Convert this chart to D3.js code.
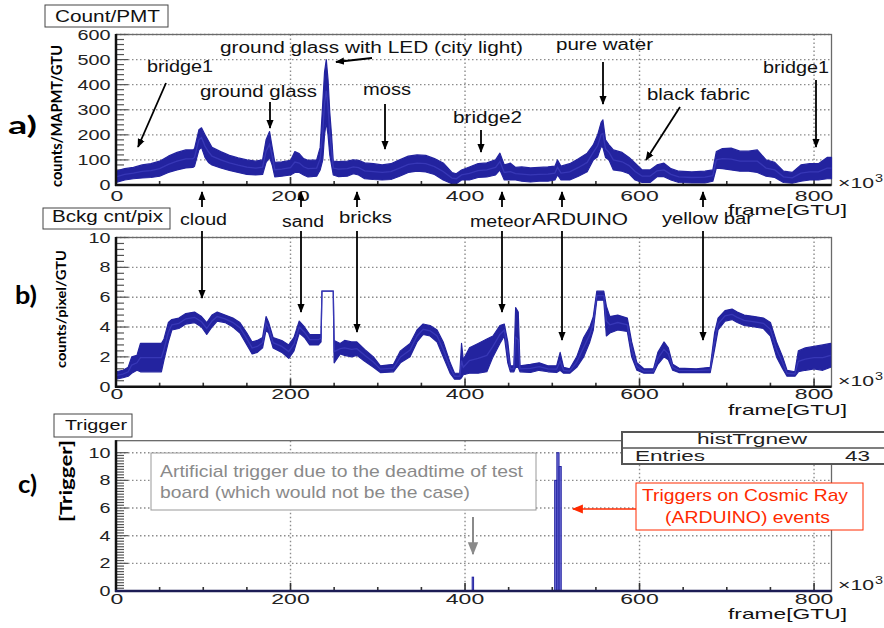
<!DOCTYPE html>
<html><head><meta charset="utf-8">
<script src="https://cdn.jsdelivr.net/npm/d3@7"></script>
<style>html,body{margin:0;padding:0;background:#fff;}svg{display:block;}</style>
</head><body>
<svg id="c" width="884" height="628"></svg>
<script>
// ---------------- DATA ----------------
// Panel a: Count/PMT (counts/MAPMT/GTU) band, frame in units of 10^3 GTU
const framesA = [0,5,10,20,30,40,50,60,70,80,88,90,95,98,102,106,110,120,130,140,150,160,168,172,176,179,182,190,200,205,210,215,220,230,234,237,239,241,243,245,247,249,255,265,272,278,285,295,305,315,325,335,345,355,365,375,385,390,396,405,415,425,435,440,445,452,458,465,475,485,495,503,506,510,520,530,540,547,552,556,558,561,565,570,580,588,595,603,612,620,628,636,645,660,675,684,688,695,705,715,725,735,745,755,765,775,785,795,805,815,820];
const lowA    = [10,15,20,25,28,30,35,50,60,68,70,75,140,150,110,90,80,68,58,50,42,40,42,90,110,80,32,35,40,50,50,40,32,35,60,100,200,250,200,120,80,40,33,35,45,40,25,22,20,22,35,50,55,52,42,20,5,5,20,20,30,32,40,60,20,20,20,15,12,15,15,20,40,20,20,35,53,100,113,153,150,110,100,60,55,45,20,10,10,33,33,20,10,8,8,15,67,65,60,55,55,50,35,30,10,7,15,20,20,25,25];
const highA   = [55,60,65,70,80,85,95,115,130,140,140,145,220,228,200,175,150,133,118,108,100,95,100,180,213,150,90,92,98,133,125,105,98,100,150,330,450,500,420,290,200,95,93,95,100,98,88,85,80,85,100,115,120,118,105,88,50,45,60,72,85,88,100,127,80,87,70,72,68,70,72,75,100,75,85,105,127,160,200,250,260,180,160,140,130,110,87,60,60,80,87,65,55,52,55,60,133,145,147,135,135,140,100,90,55,50,80,85,85,110,110];

// Panel b: Bckg cnt/pix (counts/pixel/GTU)
const framesB = [0,8,14,18,24,28,40,52,55,60,64,72,80,90,98,104,110,116,125,134,142,150,156,162,168,172,175,180,190,198,204,210,216,222,232,235,236,249,250,257,262,270,276,285,295,303,318,326,337,345,352,360,368,375,383,388,394,396,398,405,415,425,432,440,445,449,452,456,458,461,463,475,485,495,505,509,513,520,528,536,543,547,551,559,562,566,575,586,591,597,605,616,621,628,633,638,645,665,681,686,690,698,706,712,720,732,742,750,757,764,769,778,782,790,800,810,819];
const lowB    = [0.5,0.6,0.7,0.9,1.1,1.0,1.0,1.0,1.8,3.0,3.8,3.9,4.2,4.3,4.0,3.5,4.0,4.4,4.3,4.0,3.6,2.8,2.2,2.3,2.6,3.8,3.6,2.6,2.3,1.9,2.4,3.6,3.3,2.8,2.8,3.0,6.4,6.4,1.6,2.2,2.1,2.0,2.1,1.7,1.3,0.95,1.0,1.6,2.0,3.0,3.5,3.4,3.0,2.0,0.9,0.5,0.5,0.6,0.8,0.9,0.9,1.0,2.0,2.9,3.4,1.6,1.0,1.0,1.3,1.3,1.0,0.95,1.1,1.0,0.95,1.1,0.9,0.9,1.3,2.0,3.0,3.8,5.8,5.8,3.4,3.6,3.8,3.7,2.0,1.1,0.9,0.9,1.5,2.0,1.8,1.1,0.95,0.95,0.95,2.5,3.8,4.4,4.5,4.3,4.1,4.0,3.9,3.4,2.0,1.2,0.7,0.7,1.0,1.1,1.2,1.1,1.3];
const highB   = [1.0,1.1,1.3,2.0,2.1,2.9,2.9,2.9,3.2,4.3,4.5,4.6,4.9,5.0,4.7,4.3,4.8,5.0,4.8,4.6,4.3,3.6,3.0,3.1,3.3,4.7,4.3,3.3,3.1,2.8,3.3,4.4,4.0,3.5,3.5,3.5,6.4,6.4,3.1,2.9,3.1,3.0,3.0,2.5,2.0,1.4,1.5,2.4,2.9,3.8,4.2,4.1,3.8,3.0,1.6,0.9,0.9,2.9,1.8,2.6,2.9,3.2,3.4,4.1,4.2,3.0,1.4,1.4,5.3,5.0,1.4,1.5,1.6,1.4,1.4,2.3,1.3,1.2,2.0,3.3,4.0,4.7,6.4,6.4,5.4,4.7,4.8,4.6,3.0,1.6,1.2,1.2,2.3,3.0,2.6,1.5,1.25,1.2,1.3,3.6,4.6,5.1,5.2,5.0,4.8,4.7,4.6,4.3,3.0,2.0,1.1,1.0,2.4,2.6,2.7,2.8,2.9];

// Panel c: Trigger histogram (histTrgnew)
const trigFrames = [409, 504, 506.5, 509];
const trigWidth  = [1.6, 2.5, 2.5, 2.5];
const trigCounts = [1, 8, 10, 9];
const trigEntries = 43;

const xTicks = [0, 200, 400, 600, 800];
const xMinor = d3.range(0, 821, 50);
const yTicksA = [0, 100, 200, 300, 400, 500, 600];
const yTicksB = [0, 2, 4, 6, 8, 10];
const yTicksC = [0, 2, 4, 6, 8, 10];

// ---------------- DRAW ----------------
const svg = d3.select('#c');
const FONT = "'Liberation Sans', Arial, Helvetica, sans-serif";
const BOLD = "Lato, 'Open Sans', sans-serif";

function txt(g, s, x, y, o = {}) {
  const t = g.append('text').text(s)
    .attr('font-family', o.family || FONT)
    .attr('font-size', o.size || 16)
    .attr('fill', o.fill || '#111')
    .attr('font-weight', o.weight || 'normal');
  const a = o.anchor || 'start';
  let x0 = x;
  if (o.w) {
    if (a === 'middle') x0 = x - o.w / 2; else if (a === 'end') x0 = x - o.w;
    t.attr('textLength', o.w).attr('lengthAdjust', 'spacingAndGlyphs');
  } else t.attr('text-anchor', a);
  if (o.rot) {
    t.attr('transform', `translate(${x},${y}) rotate(-90)`).attr('x', o.w ? -o.w / 2 : 0).attr('y', 0);
    if (!o.w) t.attr('text-anchor', 'middle');
  } else t.attr('x', x0).attr('y', y);
  return t;
}

const defs = svg.append('defs');
function marker(id, color, size) {
  defs.append('marker').attr('id', id).attr('viewBox', '0 0 10 10').attr('refX', 9).attr('refY', 5)
    .attr('markerWidth', size).attr('markerHeight', size).attr('orient', 'auto')
    .attr('markerUnits', 'userSpaceOnUse')
    .append('path').attr('d', 'M0,1 L10,5 L0,9 Z').attr('fill', color);
}
marker('ab', '#000', 9);
marker('ag', '#8a8a8a', 13);
marker('ar', '#ff2a00', 11);
function arrow(x1, y1, x2, y2, m = 'ab', color = '#000', w = 1.8) {
  svg.append('line').attr('x1', x1).attr('y1', y1).attr('x2', x2).attr('y2', y2)
    .attr('stroke', color).attr('stroke-width', w).attr('marker-end', `url(#${m})`);
}

const X0 = 116, X1 = 831.5;
const x = d3.scaleLinear().domain([0, 820]).range([X0, X1]);

function panel(y, top, bottom, yTicks, minorStep) {
  const g = svg.append('g');
  yTicks.filter(v => v > 0).forEach(v => {
    g.append('line').attr('x1', X0).attr('x2', X1).attr('y1', y(v)).attr('y2', y(v))
      .attr('stroke', '#8c8c8c').attr('stroke-width', 1.4).attr('stroke-dasharray', '1.5,2.5');
  });
  xTicks.filter(v => v > 0).forEach(v => {
    g.append('line').attr('x1', x(v)).attr('x2', x(v)).attr('y1', top).attr('y2', bottom)
      .attr('stroke', '#8c8c8c').attr('stroke-width', 1.4).attr('stroke-dasharray', '1.5,2.5');
  });
  g.append('rect').attr('x', X0).attr('y', top).attr('width', X1 - X0).attr('height', bottom - top)
    .attr('fill', 'none').attr('stroke', '#6a6a6a').attr('stroke-width', 1.3);
  const yMax = y.domain()[1];
  d3.range(0, yMax + 1e-9, minorStep).forEach(v => {
    const yy = y(v);
    if (yy < top - 0.5) return;
    const major = yTicks.some(t => Math.abs(t - v) < 1e-6);
    g.append('line').attr('x1', X0).attr('x2', X0 + (major ? 12 : 8)).attr('y1', yy).attr('y2', yy)
      .attr('stroke', '#555').attr('stroke-width', 1.2);
  });
  xMinor.forEach(v => {
    const major = v % 200 === 0;
    g.append('line').attr('x1', x(v)).attr('x2', x(v)).attr('y1', bottom).attr('y2', bottom - (major ? 8 : 4))
      .attr('stroke', '#333').attr('stroke-width', 1.6);
  });
  return g;
}

function axesLines(top, bottom, axisColor) {
  svg.append('line').attr('x1', X0).attr('x2', X0).attr('y1', top - 0.5).attr('y2', bottom + 1)
    .attr('stroke', '#111').attr('stroke-width', 2.5);
  svg.append('line').attr('x1', X0 - 1).attr('x2', X1).attr('y1', bottom).attr('y2', bottom)
    .attr('stroke', axisColor || '#111').attr('stroke-width', 2.5);
}

function tickLabels(y, yTicks, xBase) {
  yTicks.forEach(v => {
    const s = String(v);
    txt(svg, s, 110.5, y(v) + 5, { size: 14, w: s.length * 11, anchor: 'end', fill: '#222' });
  });
  xTicks.forEach(v => {
    const s = String(v);
    txt(svg, s, x(v) + (v === 0 ? 1 : 0), xBase, { size: 14, w: s.length * 12.8, anchor: 'middle', fill: '#222' });
  });
}

function x10(yb) {
  txt(svg, '×10', 838, yb, { size: 14, w: 36, fill: '#222' });
  txt(svg, '3', 875, yb - 6, { size: 10, w: 8, fill: '#222' });
}

function band(y, frames, lo, hi, col) {
  const data = frames.map((k, i) => ({ k, lo: lo[i], hi: hi[i] }));
  const area = d3.area().x(d => x(d.k)).y0(d => y(d.lo)).y1(d => y(d.hi));
  svg.append('path').datum(data).attr('d', area).attr('fill', col)
    .attr('stroke', col).attr('stroke-width', 1.2).attr('stroke-linejoin', 'round');
  const mid = d3.line().x(d => x(d.k)).y(d => y((d.lo + d.hi) / 2));
  svg.append('path').datum(data).attr('d', mid).attr('fill', 'none')
    .attr('stroke', '#3a3ab8').attr('stroke-width', 1.3).attr('stroke-opacity', 0.9);
}

function titleBox(s, x0, y0, w, h, tx, tb, tw, size) {
  svg.append('rect').attr('x', x0).attr('y', y0).attr('width', w).attr('height', h)
    .attr('fill', '#fff').attr('stroke', '#444').attr('stroke-width', 1);
  txt(svg, s, tx, tb, { size: size, w: tw, fill: '#111' });
}

// ---- Panel a ----
const yA = d3.scaleLinear().domain([0, 600]).range([185, 34.5]);
panel(yA, 34.5, 185, yTicksA, 20);
band(yA, framesA, lowA, highA, '#23239f');
axesLines(34.5, 185);
tickLabels(yA, yTicksA, 201);
x10(188);
txt(svg, 'frame[GTU]', 847, 215, { size: 15, w: 119, anchor: 'end', fill: '#111' });
titleBox('Count/PMT', 45, 5, 123, 22, 55, 21.5, 105, 16);
txt(svg, 'a)', 8, 134, { size: 24, w: 29, family: BOLD, weight: 'bold', fill: '#000' });
txt(svg, 'counts/MAPMT/GTU', 62, 116, { size: 15, w: 142, family: BOLD, weight: 'bold', rot: true, fill: '#000' });

// ---- Panel b ----
const yB = d3.scaleLinear().domain([0, 10]).range([386.7, 237.5]);
panel(yB, 237.5, 386.7, yTicksB, 0.4);
band(yB, framesB, lowB, highB, '#23239f');
axesLines(237.5, 386.7);
tickLabels(yB, yTicksB, 399);
x10(386);
txt(svg, 'frame[GTU]', 847, 415, { size: 15, w: 119, anchor: 'end', fill: '#111' });
titleBox('Bckg cnt/pix', 43, 208, 127, 21, 52, 222, 111, 16);
txt(svg, 'b)', 15, 304, { size: 24, w: 22, family: BOLD, weight: 'bold', fill: '#000' });
txt(svg, 'counts/pixel/GTU', 66, 309, { size: 14, w: 118, family: BOLD, weight: 'bold', rot: true, fill: '#000' });

// ---- Panel c ----
const yC = d3.scaleLinear().domain([0, 10]).range([591, 452.7]);
const topC = yC(10.87);
panel(yC, topC, 591, yTicksC, 0.2);
trigFrames.forEach((k, i) => {
  svg.append('rect').attr('x', x(k - trigWidth[i] / 2)).attr('width', x(trigWidth[i]) - x(0))
    .attr('y', yC(trigCounts[i])).attr('height', yC(0) - yC(trigCounts[i]))
    .attr('fill', '#5a5ad2').attr('fill-opacity', 0.85).attr('stroke', '#2323a0').attr('stroke-width', 1);
});
axesLines(topC, 591, '#1c1c55');
tickLabels(yC, yTicksC, 604);
x10(590);
txt(svg, 'frame[GTU]', 847, 619, { size: 15, w: 119, anchor: 'end', fill: '#111' });
titleBox('Trigger', 54, 414, 78, 23, 65, 430, 62, 14);
txt(svg, 'c)', 18, 493, { size: 24, w: 19, family: BOLD, weight: 'bold', fill: '#000' });
txt(svg, '[Trigger]', 72, 481, { size: 17, w: 82, family: BOLD, weight: 'bold', rot: true, fill: '#000' });

// stats box
svg.append('rect').attr('x', 622).attr('y', 432).attr('width', 270).attr('height', 32)
  .attr('fill', '#fff').attr('stroke', '#555').attr('stroke-width', 2);
svg.append('line').attr('x1', 622).attr('x2', 884).attr('y1', 448).attr('y2', 448).attr('stroke', '#555').attr('stroke-width', 1.5);
txt(svg, 'histTrgnew', 752, 444, { size: 14, w: 110, anchor: 'middle', fill: '#222' });
txt(svg, 'Entries', 635, 461, { size: 14, w: 70, fill: '#222' });
txt(svg, String(trigEntries), 870, 461, { size: 14, w: 25, anchor: 'end', fill: '#222' });

// gray annotation box
svg.append('rect').attr('x', 151).attr('y', 453).attr('width', 385).attr('height', 57)
  .attr('fill', '#fff').attr('stroke', '#999').attr('stroke-width', 1);
txt(svg, 'Artificial trigger due to the deadtime of test', 160, 477, { size: 17, w: 363, fill: '#8a8a8a' });
txt(svg, 'board (which would not be the case)', 160, 498, { size: 17, w: 310, fill: '#8a8a8a' });
arrow(473, 517, 473, 554, 'ag', '#8a8a8a', 2);

// red annotation
svg.append('rect').attr('x', 636).attr('y', 483).attr('width', 227).attr('height', 47)
  .attr('fill', '#fff').attr('stroke', '#ff2a00').attr('stroke-width', 1);
txt(svg, 'Triggers on Cosmic Ray', 642, 501, { size: 17, w: 206, fill: '#ff2a00' });
txt(svg, '(ARDUINO) events', 665, 523, { size: 17, w: 165, fill: '#ff2a00' });
arrow(636, 509, 573, 509, 'ar', '#ff2a00', 1.6);

// ---- annotations panel a ----
const annA = [
  ['bridge1', 147, 72, 66], ['ground glass', 200, 97, 117], ['ground glass with LED (city light)', 220, 52.5, 303],
  ['moss', 363, 95, 48], ['bridge2', 453, 123, 69], ['pure water', 556, 50, 97], ['black fabric', 647, 99.5, 103],
  ['bridge1', 763, 73, 66]
];
annA.forEach(([s, ax, ay, w]) => txt(svg, s, ax, ay, { size: 16, w: w, fill: '#111' }));
arrow(166, 83, 138, 147);
arrow(270, 102, 270, 128);
arrow(372, 58, 336, 62);
arrow(385, 104, 385, 149);
arrow(481, 130, 481, 152);
arrow(603, 62, 603, 104);
arrow(680, 107, 646, 160);
arrow(816, 80, 816, 147);

// ---- annotations between a and b ----
const annB = [
  ['cloud', 180, 225, 47, 202, 298], ['sand', 282, 227, 42, 301, 312], ['bricks', 339, 223, 53, 357, 332],
  ['meteor', 470, 227, 61, 502, 312], ['ARDUINO', 532, 225, 96, 562, 340], ['yellow bar', 662, 224, 91, 703, 340]
];
annB.forEach(([s, ax, ay, w, axx, tipY]) => {
  txt(svg, s, ax, ay, { size: 16, w: w, fill: '#111' });
  arrow(axx, 207, axx, 192);
  arrow(axx, 231, axx, tipY);
});
</script>
</body></html>
